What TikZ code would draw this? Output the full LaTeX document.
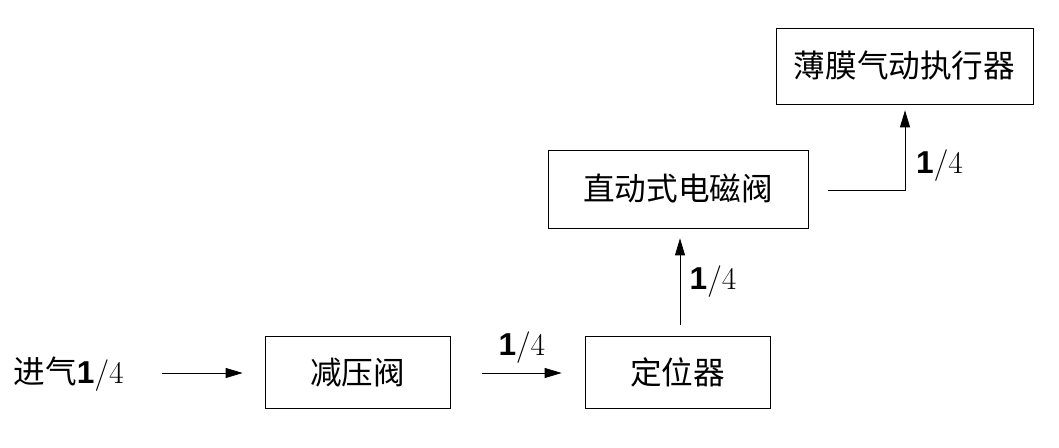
\documentclass[tikz,border=0pt]{standalone}
\usepackage{fontspec}
\newfontfamily\cjk{Noto Sans CJK SC}
\newfontfamily\digits{Liberation Sans}
\usetikzlibrary{arrows.meta,positioning}
\tikzset{
  unitbox/.style={draw, thin, minimum height=1.45cm, inner sep=4pt, font=\cjk\fontsize{18}{21}\selectfont},
  feed/.style={-{Stealth[length=3.4mm,width=2mm,inset=0pt]}, thin},
  size/.style={font=\fontsize{18}{21}\selectfont}
}
\newcommand{\pipe}{{\digits\bfseries 1}/4}
\begin{document}
\begin{tikzpicture}
  \useasboundingbox (0,0) rectangle (21.18,-8.96);
  \node[anchor=west, size] (inlet) at (0.15,-7.48) {\cjk 进气\normalfont\pipe};
  \node[unitbox, minimum width=3.7cm] (reducer) at (7.15,-7.45) {减压阀};
  \node[unitbox, minimum width=3.7cm] (positioner) at (13.55,-7.45) {定位器};
  \node[unitbox, minimum width=5.2cm, minimum height=1.56cm] (valve) at (13.56,-3.78) {直动式电磁阀};
  \node[unitbox, minimum width=5.14cm, minimum height=1.52cm] (actuator) at (18.09,-1.32) {薄膜气动执行器};

  \coordinate (c1) at (3.24,-7.46);
  \draw[feed] (c1) -- ([xshift=-0.44cm]reducer.west |- c1);
  \coordinate (c2) at (9.64,-7.46);
  \draw[feed] (c2) -- ([xshift=-0.46cm]positioner.west |- c2) node[midway, above=2pt, size]{\pipe};
  \coordinate (c3) at (13.6,-6.5);
  \draw[feed] (c3) -- ([yshift=-0.2cm]valve.south -| c3) node[midway, right=2pt, size]{\pipe};
  \coordinate (c4) at (16.56,-3.8);
  \coordinate (c5) at (18.1,-3.8);
  \draw[feed] (c4) -- (c5) -- ([yshift=-0.12cm]actuator.south -| c5);
  \node[size, anchor=south west] (l4) at (18.2,-3.75) {\pipe};
\end{tikzpicture}
\end{document}
